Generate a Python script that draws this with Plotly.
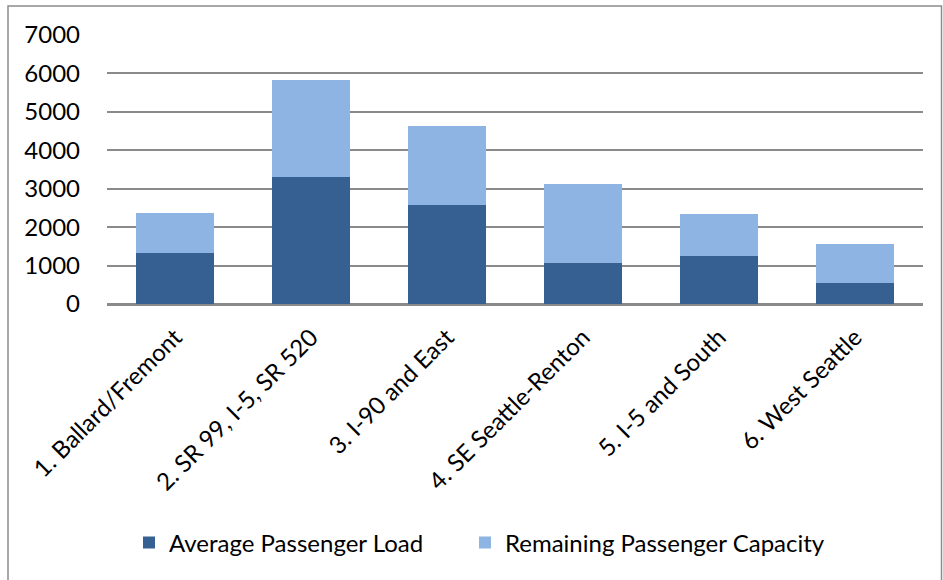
import plotly.graph_objects as go

# Corridor categories and passenger figures
corridors = [
    "1. Ballard/Fremont",
    "2. SR 99, I-5, SR 520",
    "3. I-90 and East",
    "4. SE Seattle-Renton",
    "5. I-5 and South",
    "6. West Seattle",
]
average_load = [1335, 3315, 2565, 1075, 1250, 535]
remaining_capacity = [1030, 2510, 2080, 2035, 1090, 1035]
y_ticks = [0, 1000, 2000, 3000, 4000, 5000, 6000, 7000]

DARK = "#366092"
LIGHT = "#8EB4E3"
GRID = "#8A8A8A"
FONT = "Lato"
FS = 24

fig = go.Figure()
fig.add_trace(go.Bar(
    x=corridors, y=average_load, name="Average Passenger Load",
    marker=dict(color=DARK, line=dict(width=0)), legend="legend",
))
fig.add_trace(go.Bar(
    x=corridors, y=remaining_capacity, name="Remaining Passenger Capacity",
    marker=dict(color=LIGHT, line=dict(width=0)), legend="legend2",
))

W, H = 943, 580
L, R, T, B = 107, 20, 35, 276
pw, ph = W - L - R, H - T - B

def px_x(v):
    return (v - L) / pw

def px_y(v):
    return (H - B - v) / ph

legend_style = dict(
    orientation="h", yanchor="middle", xanchor="left",
    font=dict(family=FONT, size=FS, color="#000000"),
    itemwidth=30, bgcolor="rgba(0,0,0,0)",
)

fig.update_layout(
    width=W, height=H,
    barmode="stack", bargap=0.43,
    plot_bgcolor="white", paper_bgcolor="white",
    margin=dict(l=L, r=R, t=T, b=B),
    font=dict(family=FONT, size=FS, color="#000000"),
    showlegend=True,
    legend=dict(x=px_x(129), y=px_y(543), **legend_style),
    legend2=dict(x=px_x(465), y=px_y(543), **legend_style),
    hovermode=False,
)

fig.update_xaxes(
    type="category", tickangle=-45,
    showline=True, linecolor=GRID, linewidth=1.5,
    ticks="outside", ticklen=8, tickcolor="rgba(0,0,0,0)",
    tickfont=dict(family=FONT, size=FS, color="#000000"),
    showgrid=False,
)
fig.update_yaxes(
    range=[0, 7000], tickvals=y_ticks,
    showgrid=True, gridcolor=GRID, gridwidth=1.5,
    zeroline=True, zerolinecolor=GRID, zerolinewidth=1.5,
    showline=False, ticks="", ticklabelstandoff=26,
    tickfont=dict(family=FONT, size=FS, color="#000000"),
)

# Outer chart-area border
fig.add_shape(
    type="rect", xref="paper", yref="paper",
    x0=px_x(8), x1=px_x(941.5), y0=px_y(590), y1=px_y(6),
    line=dict(color="#8C8C8C", width=1.5), fillcolor="rgba(0,0,0,0)",
    layer="below",
)

fig.write_html("out.html")
